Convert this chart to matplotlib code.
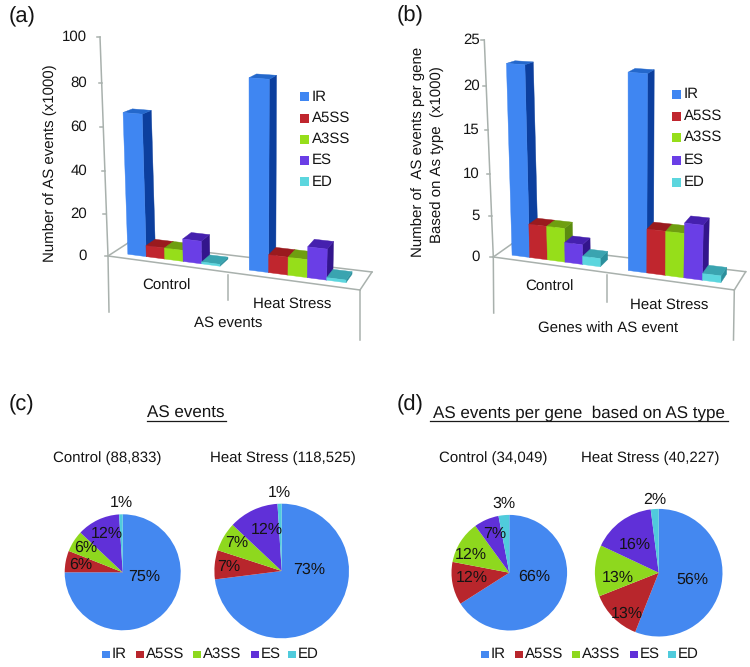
import matplotlib
matplotlib.use('Agg')
import matplotlib.pyplot as plt
from matplotlib.patches import Polygon, Rectangle

plt.rcParams['font.family'] = ['Liberation Sans', 'DejaVu Sans']
plt.rcParams['text.hinting'] = 'no_hinting'
plt.rcParams['text.hinting_factor'] = 1

types = ['IR', 'A5SS', 'A3SS', 'ES', 'ED']
groups = ['Control', 'Heat Stress']

# bar values, (a) in x1000 events and (b) in x1000 events per gene
a_control = [66.6, 5.3, 5.3, 10.7, 0.9]
a_heat = [86.5, 8.3, 8.3, 14.2, 1.2]
a_ticks = [0, 20, 40, 60, 80, 100]
b_control = [22.5, 4.1, 4.1, 2.4, 1.0]
b_heat = [22.5, 5.2, 5.2, 6.4, 0.8]
b_ticks = [0, 5, 10, 15, 20, 25]

# pie percentages
c_control = [75, 6, 6, 12, 1]
c_heat = [73, 7, 7, 12, 1]
d_control = [66, 12, 12, 7, 3]
d_heat = [56, 13, 13, 16, 2]

front = ['#3f86f2', '#c0262e', '#96de1a', '#6a3ee6', '#5cd6de']
side = ['#0c3f9e', '#7d1518', '#5b8c0f', '#33158c', '#2b8f9c']
top = ['#2468cc', '#9a1a1e', '#6f9e10', '#4520ae', '#3aa4b0']
pie_colors = ['#4488f0', '#b8262c', '#8ed81e', '#6030d8', '#50cbdc']
grey = '#a9b1ad'

fig = plt.figure(figsize=(7.5, 6.67), dpi=100)
ax = fig.add_axes([0, 0, 1, 1], zorder=5)
ax.set_xlim(0, 750)
ax.set_ylim(667, 0)
ax.axis('off')


def put(x, y, s, size=11, ha='center', **kw):
    ax.text(x, y, s, fontsize=size, ha=ha, va='center', color='#141414', **kw)


def height(p, v):
    pct = v / p['ymax'] * 100
    return p['qa'] * pct + p['qb'] * pct * pct


# floor position (u along the front edge, d towards the back) plus value
def project(p, u, d, v=0):
    fx = p['f0'][0] + (p['f1'][0] - p['f0'][0]) * u
    fy = p['f0'][1] + (p['f1'][1] - p['f0'][1]) * u
    bx = p['b0'][0] + (p['b1'][0] - p['b0'][0]) * u
    by = p['b0'][1] + (p['b1'][1] - p['b0'][1]) * u
    x = fx + (bx - fx) * d
    y = fy + (by - fy) * d
    h = height(p, v) * (1 + 0.07 * (u - 0.06)) * (1 - 0.04 * d)
    lean = p['lean'] * (v / p['ymax']) * (1 - u / 0.56)
    return x + lean, y - h


def draw_bar(p, u0, u1, v, i):
    d0, d1 = 0.28, 0.76
    z = 2 + i * 0.1 + u0
    ax.add_patch(Polygon([project(p, u1, d0, 0), project(p, u1, d1, 0), project(p, u1, d1, v), project(p, u1, d0, v)],
                         fc=side[i], ec=side[i], lw=0.3, zorder=z))
    ax.add_patch(Polygon([project(p, u0, d0, v), project(p, u1, d0, v), project(p, u1, d1, v), project(p, u0, d1, v)],
                         fc=top[i], ec=top[i], lw=0.3, zorder=z))
    ax.add_patch(Polygon([project(p, u0, d0, 0), project(p, u1, d0, 0), project(p, u1, d0, v), project(p, u0, d0, v)],
                         fc=front[i], ec=front[i], lw=0.3, zorder=z))


def draw_panel(p, control, heat, ticks):
    f0, f1, b0, b1 = p['f0'], p['f1'], p['b0'], p['b1']
    for seg in [(p['axis_top'], f0), (f0, p['axis_bottom']), (f0, f1), (f0, b0), (b0, b1), (b1, f1),
                (p['div'][0], p['div'][1]), (f1, p['right_bottom'])]:
        ax.plot([seg[0][0], seg[1][0]], [seg[0][1], seg[1][1]], color=grey, lw=1.1, zorder=1)
    for t in ticks:
        frac = t / p['ymax']
        x = f0[0] + (p['axis_top'][0] - f0[0]) * frac
        y = f0[1] - height(p, t)
        ax.plot([x - 3, x], [y, y], color=grey, lw=1.1, zorder=1)
        put(p['tick_x'], y, str(t), ha='right')
    for i in range(5):
        draw_bar(p, 0.057 + 0.0738 * i, 0.057 + 0.0738 * (i + 1), control[i], i)
        draw_bar(p, 0.543 + 0.0775 * i, 0.543 + 0.0775 * (i + 1), heat[i], i)
    put(p['group_pos'][0][0], p['group_pos'][0][1], groups[0])
    put(p['group_pos'][1][0], p['group_pos'][1][1], groups[1])
    for i in range(5):
        x, y = p['legend_x'], p['legend_y'][i]
        ax.add_patch(Rectangle((x, y - 4.5), 8.5, 9, fc=front[i], ec='none', zorder=3))
        put(x + 12, y, types[i], size=11, ha='left')


panel_a = dict(ymax=100, qa=2.0775, qb=0.001125, lean=-8, f0=(108, 256), f1=(360, 290), b0=(128, 243), b1=(372, 272),
               axis_top=(100, 37), axis_bottom=(109, 312), div=((228, 275), (228, 300)), right_bottom=(360, 340),
               tick_x=87, group_pos=[(166.7, 286), (292, 304)], legend_x=300, legend_y=[96.7, 118, 139, 160, 181.7])
panel_b = dict(ymax=25, qa=2.02, qb=0.0015, lean=-7, f0=(493.3, 257), f1=(734.3, 290), b0=(511.7, 244), b1=(745.7, 271.7),
               axis_top=(484.3, 40), axis_bottom=(493.7, 313), div=((607.3, 275), (607.3, 301.7)), right_bottom=(733.5, 340),
               tick_x=480, group_pos=[(549, 286.7), (669.3, 305)], legend_x=672, legend_y=[94, 116, 137, 160, 182])

draw_panel(panel_a, a_control, a_heat, a_ticks)
draw_panel(panel_b, b_control, b_heat, b_ticks)

put(228, 323, 'AS events')
put(608, 329, 'Genes with AS event')
put(50, 163, 'Number of AS events (x1000)', size=11.1, rotation=90)
put(418, 152, 'Number of  AS events per gene', size=11.1, rotation=90)
put(437, 155, 'Based on As type  (x1000)', size=11.1, rotation=90)

put(9, 17, '(a)', size=16, ha='left')
put(397, 16, '(b)', size=16, ha='left')
put(9, 405, '(c)', size=16, ha='left')
put(397, 405, '(d)', size=16, ha='left')


def draw_pie(cx, cy, r, values):
    pie_ax = fig.add_axes([(cx - r) / 750, 1 - (cy + r) / 667, 2 * r / 750, 2 * r / 667])
    pie_ax.pie(values, colors=pie_colors, startangle=90, counterclock=False, radius=1, wedgeprops={'linewidth': 0})
    pie_ax.set_xlim(-1, 1)
    pie_ax.set_ylim(-1, 1)


draw_pie(122.7, 572.3, 58, c_control)
draw_pie(281.7, 571, 67.3, c_heat)
draw_pie(509.3, 572.7, 57.8, d_control)
draw_pie(658.7, 572.7, 63.8, d_heat)

pie_label_pos = [
    (c_control, [(144, 577), (81, 565), (85.3, 548), (107, 534), (121, 503)]),
    (c_heat, [(309, 570), (228.3, 567), (236.7, 543), (266.7, 530), (279.3, 493)]),
    (d_control, [(534.3, 576.7), (471.7, 577.7), (471, 554.3), (495, 534), (504.3, 503.3)]),
    (d_heat, [(692.3, 579.3), (627.3, 613.3), (617.7, 577.3), (635, 545), (654.3, 499.3)]),
]
for values, positions in pie_label_pos:
    for v, pos in zip(values, positions):
        put(pos[0], pos[1], f'{v}%', size=11.6)

put(186, 413, 'AS events', size=12.5)
ax.plot([146.7, 226], [420.5, 420.5], color='#1a1a1a', lw=0.9)
put(433, 413, 'AS events per gene  based on AS type', size=12.5, ha='left')
ax.plot([430, 727.7], [421, 421], color='#1a1a1a', lw=0.9)

put(107.7, 458, 'Control (88,833)', size=11)
put(283, 458, 'Heat Stress (118,525)', size=11)
put(493, 458, 'Control (34,049)', size=11)
put(650.6, 458, 'Heat Stress (40,227)', size=11)

# legends under the pies
c_legend_x = [102, 136, 193, 251, 288]
d_legend_x = [481, 515, 572, 630, 668]
for xs in [c_legend_x, d_legend_x]:
    for i, x in enumerate(xs):
        ax.add_patch(Rectangle((x, 650.5), 7.5, 7.5, fc=pie_colors[i], ec='none'))
        put(x + 10, 654, types[i], size=11, ha='left')

fig.savefig('out.png', dpi=100)
